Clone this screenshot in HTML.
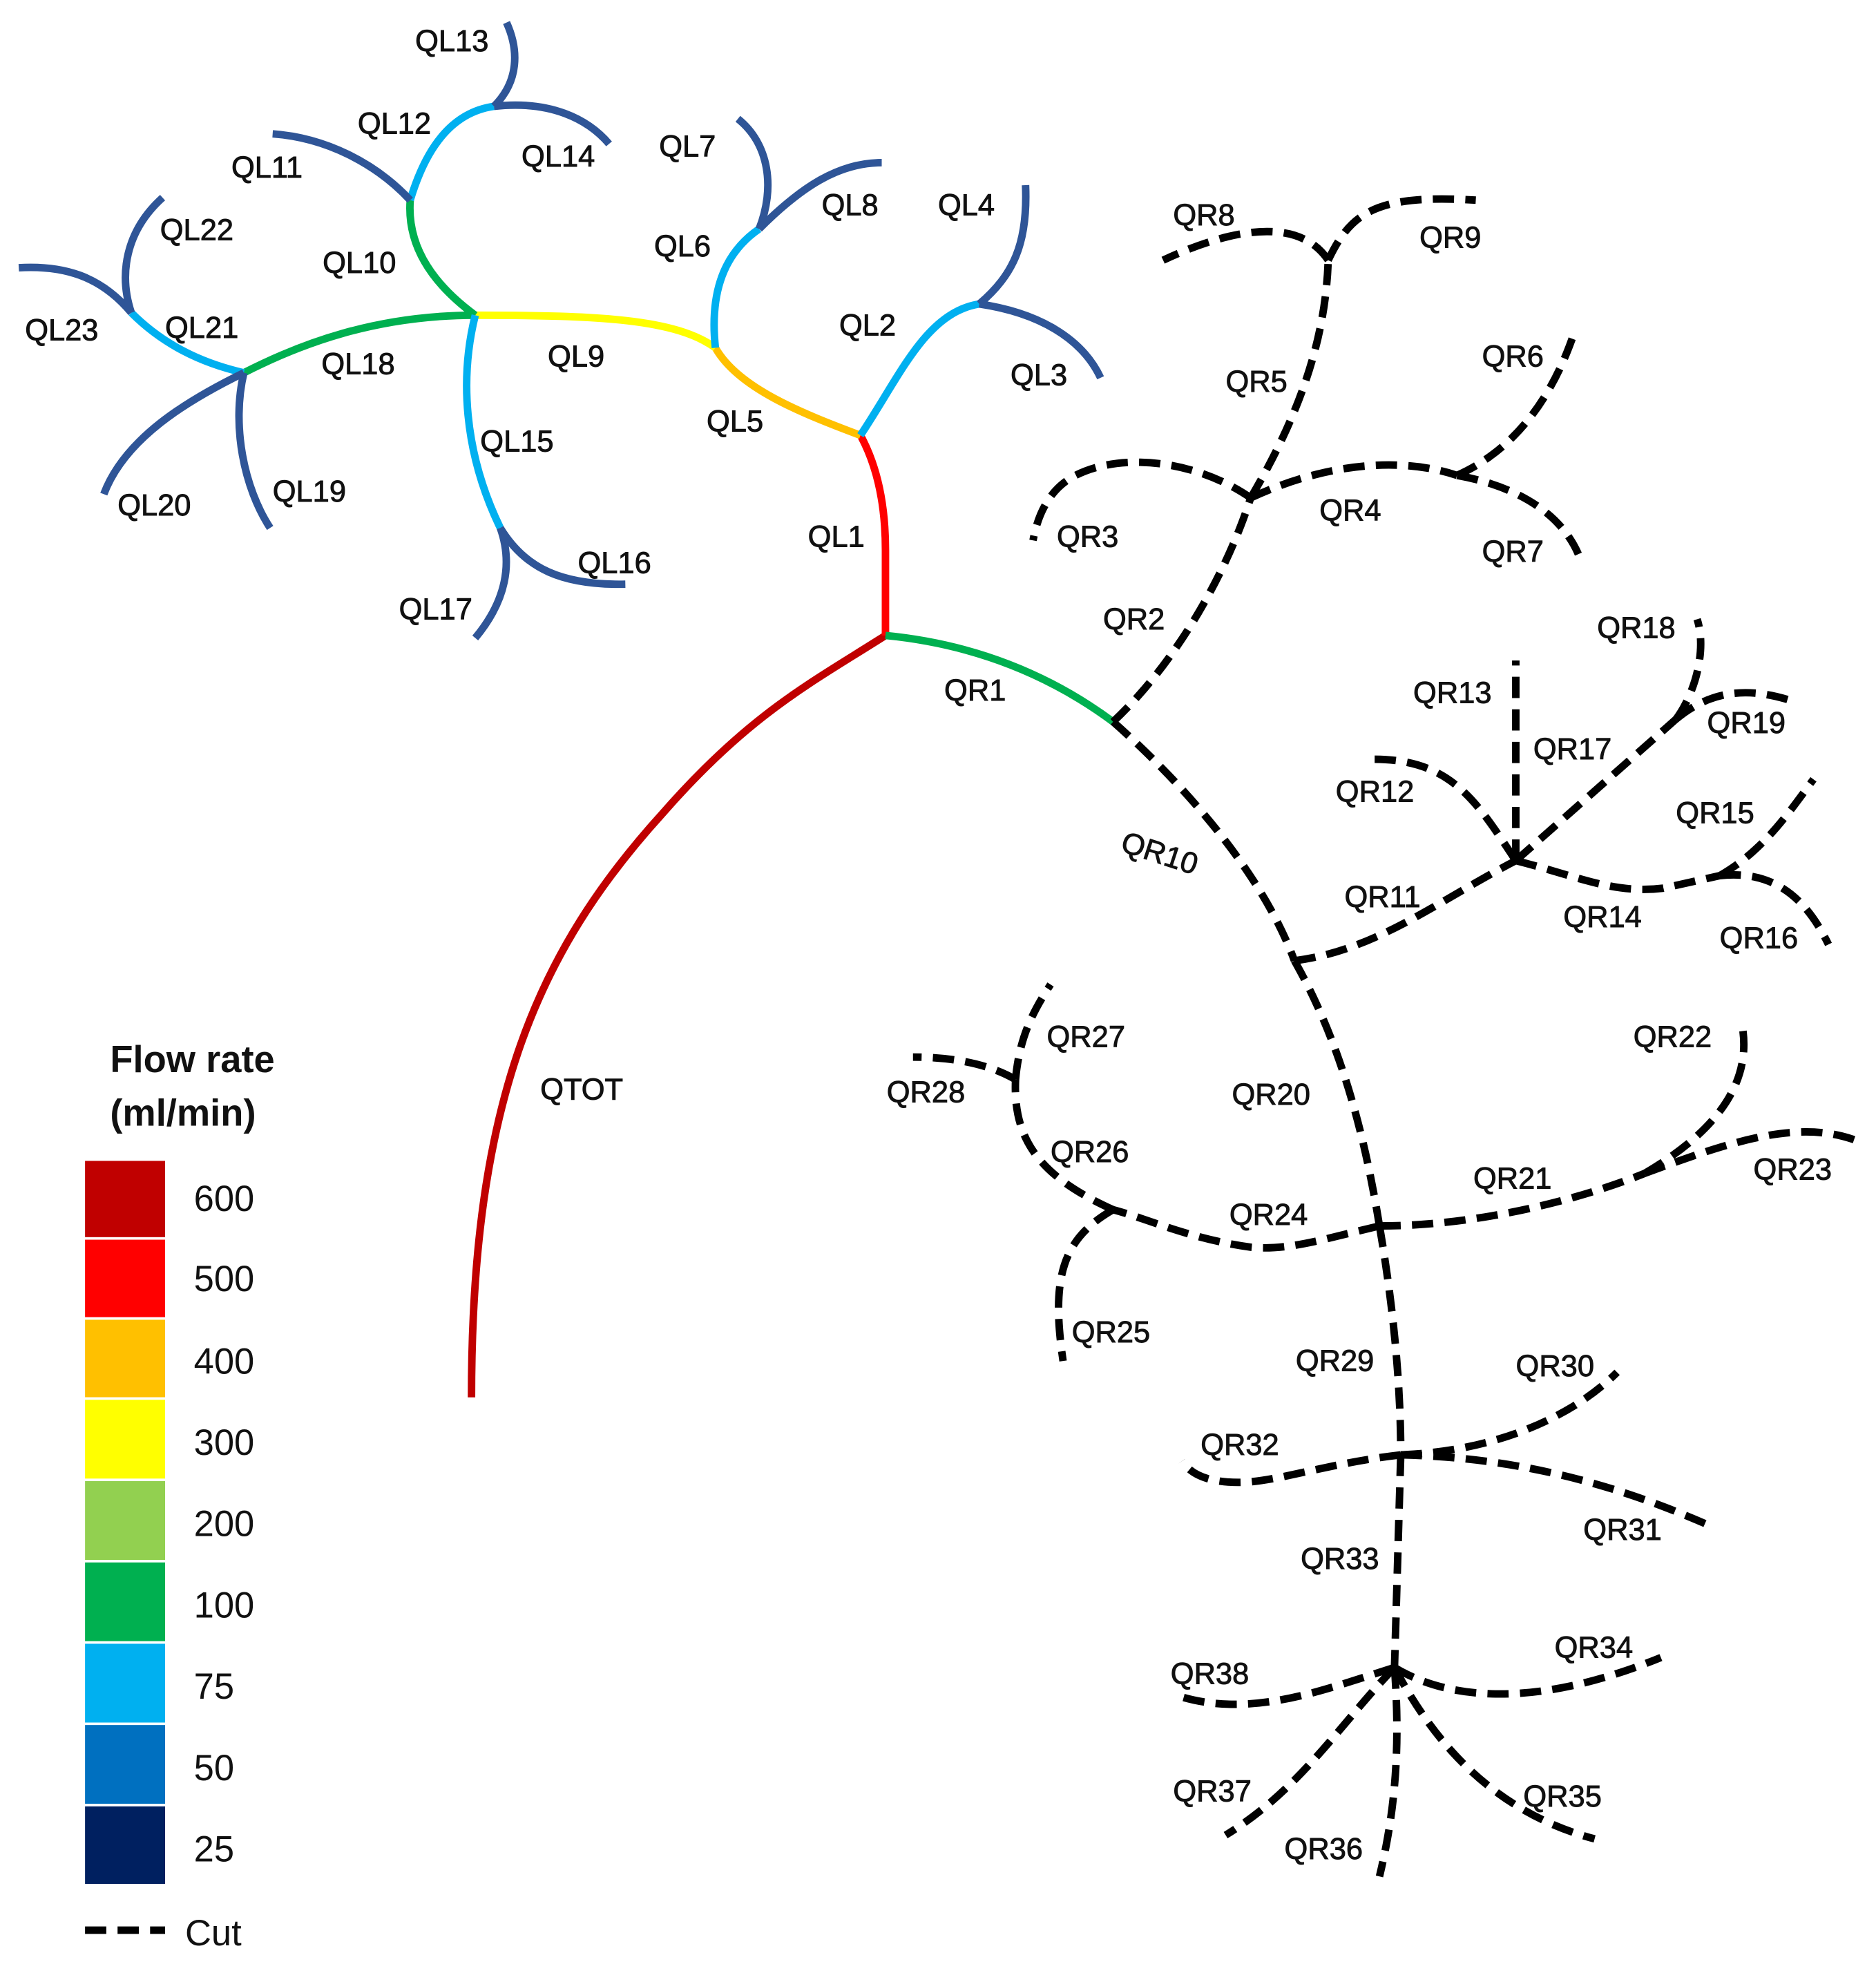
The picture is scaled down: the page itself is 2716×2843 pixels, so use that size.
<!DOCTYPE html>
<html><head><meta charset="utf-8"><style>html,body{margin:0;padding:0;background:#fff}svg{display:block}</style></head>
<body>
<svg width="2716" height="2843" viewBox="0 0 1500 1570" preserveAspectRatio="none" xmlns="http://www.w3.org/2000/svg">
<g fill="none" stroke-width="6" stroke-linecap="butt">
<path d="M377,1117 C377,880 430,760 530,650 C600,570 650,545 708,508" stroke="#c00000"/>
<path d="M708,508 L708,440 C708,400 700,370 688,348" stroke="#ff0000"/>
<path d="M688,348 C640,330 590,310 572,278" stroke="#ffc000"/>
<path d="M572,278 C540,255 480,252 380,252" stroke="#ffff00"/>
<path d="M380,252 C300,252 240,275 195,298" stroke="#00b050"/>
<path d="M380,252 C350,230 325,200 328,160" stroke="#00b050"/>
<path d="M708,508 C780,515 840,540 890,577" stroke="#00b050"/>
<g stroke="#00b0f0">
<path d="M195,298 C160,290 130,275 105,250"/>
<path d="M380,252 C368,300 370,360 400,422"/>
<path d="M328,160 C340,120 360,90 395,85"/>
<path d="M572,278 C568,240 575,205 607,183"/>
<path d="M688,348 C720,300 740,250 783,243"/>
</g>
<g stroke="#2f5597">
<path d="M105,250 C80,220 50,212 15,214"/>
<path d="M105,250 C95,220 100,185 130,158"/>
<path d="M195,298 C150,320 100,350 83,395"/>
<path d="M195,298 C185,340 195,390 216,422"/>
<path d="M400,422 C420,455 450,468 500,467"/>
<path d="M400,422 C410,450 405,480 380,510"/>
<path d="M328,160 C300,130 260,110 218,107"/>
<path d="M395,85 C415,65 415,40 405,18"/>
<path d="M395,85 C440,80 470,95 487,115"/>
<path d="M607,183 C620,150 615,115 590,95"/>
<path d="M607,183 C640,150 670,130 705,130"/>
<path d="M783,243 C810,220 822,195 820,148"/>
<path d="M783,243 C830,250 865,270 880,302"/>
</g>
<g stroke="#000" stroke-dasharray="17,9">
<path d="M890,577 C940,530 980,460 1000,398"/>
<path d="M1000,398 C960,370 900,360 860,380 C840,390 830,410 826,432"/>
<path d="M1000,398 C1060,370 1120,365 1165,380"/>
<path d="M1165,380 C1210,360 1240,320 1258,268"/>
<path d="M1165,380 C1220,390 1250,415 1262,443"/>
<path d="M1000,398 C1040,330 1060,270 1062,208"/>
<path d="M1062,208 C1040,175 990,180 930,208"/>
<path d="M1062,208 C1080,170 1100,155 1180,160"/>
<path d="M890,577 C950,630 1010,700 1035,768"/>
<path d="M1035,768 C1100,760 1150,720 1212,688"/>
<path d="M1212,688 C1180,640 1160,605 1093,607"/>
<path d="M1212,688 L1212,528"/>
<path d="M1212,688 L1340,575"/>
<path d="M1340,575 C1355,555 1365,520 1357,495"/>
<path d="M1340,575 C1370,550 1400,550 1432,560"/>
<path d="M1212,688 C1260,700 1290,715 1330,710 L1375,700"/>
<path d="M1375,700 C1410,680 1430,650 1450,623"/>
<path d="M1375,700 C1420,695 1445,720 1462,755"/>
<path d="M1035,768 C1070,830 1090,900 1103,980"/>
<path d="M1103,980 C1180,980 1260,960 1315,938"/>
<path d="M1315,938 C1380,900 1400,860 1393,820"/>
<path d="M1315,938 C1390,910 1440,895 1485,912"/>
<path d="M1103,980 C1060,990 1030,1000 1000,997 C950,990 920,975 890,967"/>
<path d="M890,967 C850,990 840,1020 850,1088"/>
<path d="M890,967 C830,940 810,910 812,863"/>
<path d="M812,863 C815,830 825,810 840,787"/>
<path d="M812,863 C790,850 760,845 730,845"/>
<path d="M1103,980 C1115,1050 1120,1110 1120,1163"/>
<path d="M1120,1163 C1200,1160 1260,1130 1293,1097"/>
<path d="M1120,1163 C1220,1165 1300,1190 1368,1220"/>
<path d="M1120,1163 C1060,1170 1020,1185 990,1185 C960,1185 950,1175 945,1168"/>
<path d="M1120,1163 L1115,1333"/>
<path d="M1115,1333 C1160,1360 1230,1365 1328,1325"/>
<path d="M1115,1333 C1060,1350 1000,1375 940,1355"/>
<path d="M1115,1333 C1070,1380 1040,1430 980,1467"/>
<path d="M1115,1333 C1120,1400 1115,1450 1103,1500"/>
<path d="M1115,1333 C1150,1400 1200,1450 1275,1470"/>
<path d="M68,1543 L132,1543"/>
</g>
</g>
<g font-family="Liberation Sans, sans-serif" font-size="24" fill="#111" stroke="#111" stroke-width="0.5">
<text x="332" y="41">QL13</text><text x="286" y="107">QL12</text><text x="417" y="133">QL14</text>
<text x="185" y="142">QL11</text><text x="128" y="192">QL22</text><text x="258" y="218">QL10</text>
<text x="20" y="272">QL23</text><text x="132" y="270">QL21</text><text x="257" y="299">QL18</text>
<text x="94" y="412">QL20</text><text x="218" y="401">QL19</text><text x="384" y="361">QL15</text>
<text x="462" y="458">QL16</text><text x="319" y="495">QL17</text><text x="438" y="293">QL9</text>
<text x="527" y="125">QL7</text><text x="657" y="172">QL8</text><text x="523" y="205">QL6</text>
<text x="750" y="172">QL4</text><text x="671" y="268">QL2</text><text x="808" y="308">QL3</text>
<text x="565" y="345">QL5</text><text x="646" y="437">QL1</text><text x="432" y="879">QTOT</text>
<text x="755" y="560">QR1</text><text x="938" y="180">QR8</text><text x="1135" y="198">QR9</text>
<text x="980" y="313">QR5</text><text x="1185" y="293">QR6</text><text x="845" y="437">QR3</text>
<text x="1055" y="416">QR4</text><text x="1185" y="449">QR7</text><text x="882" y="503">QR2</text>
<text x="1277" y="510">QR18</text><text x="1130" y="562">QR13</text><text x="1226" y="607">QR17</text>
<text x="1365" y="586">QR19</text><text x="1068" y="641">QR12</text><text x="1340" y="658">QR15</text>
<text x="895" y="680" transform="rotate(18 895 680)">QR10</text><text x="1075" y="725">QR11</text>
<text x="1250" y="741">QR14</text><text x="1375" y="758">QR16</text>
<text x="1306" y="837">QR22</text><text x="837" y="837">QR27</text><text x="709" y="881">QR28</text>
<text x="985" y="883">QR20</text><text x="840" y="929">QR26</text><text x="1178" y="950">QR21</text>
<text x="1402" y="943">QR23</text><text x="983" y="979">QR24</text><text x="857" y="1073">QR25</text>
<text x="1036" y="1096">QR29</text><text x="1212" y="1100">QR30</text><text x="960" y="1163">QR32</text>
<text x="1266" y="1231">QR31</text><text x="1040" y="1254">QR33</text><text x="1243" y="1325">QR34</text>
<text x="936" y="1346">QR38</text><text x="938" y="1440">QR37</text><text x="1218" y="1444">QR35</text>
<text x="1027" y="1486">QR36</text>
</g>
<g font-family="Liberation Sans, sans-serif" fill="#111">
<text x="88" y="857" font-size="30" font-weight="bold">Flow rate</text>
<text x="88" y="900" font-size="30" font-weight="bold">(ml/min)</text>
<g stroke="#fff" stroke-width="2">
<rect x="67" y="927" width="66" height="63" fill="#c00000"/>
<rect x="67" y="990" width="66" height="64" fill="#ff0000"/>
<rect x="67" y="1054" width="66" height="64" fill="#ffc000"/>
<rect x="67" y="1118" width="66" height="65" fill="#ffff00"/>
<rect x="67" y="1183" width="66" height="65" fill="#92d050"/>
<rect x="67" y="1248" width="66" height="65" fill="#00b050"/>
<rect x="67" y="1313" width="66" height="65" fill="#00b0f0"/>
<rect x="67" y="1378" width="66" height="65" fill="#0070c0"/>
<rect x="67" y="1443" width="66" height="64" fill="#002060"/>
</g>
<g font-size="29">
<text x="155" y="968">600</text><text x="155" y="1032">500</text><text x="155" y="1098">400</text>
<text x="155" y="1163">300</text><text x="155" y="1228">200</text><text x="155" y="1293">100</text>
<text x="155" y="1358">75</text><text x="155" y="1423">50</text><text x="155" y="1488">25</text>
<text x="148" y="1555">Cut</text>
</g>
</g>
</svg>
</body></html>
